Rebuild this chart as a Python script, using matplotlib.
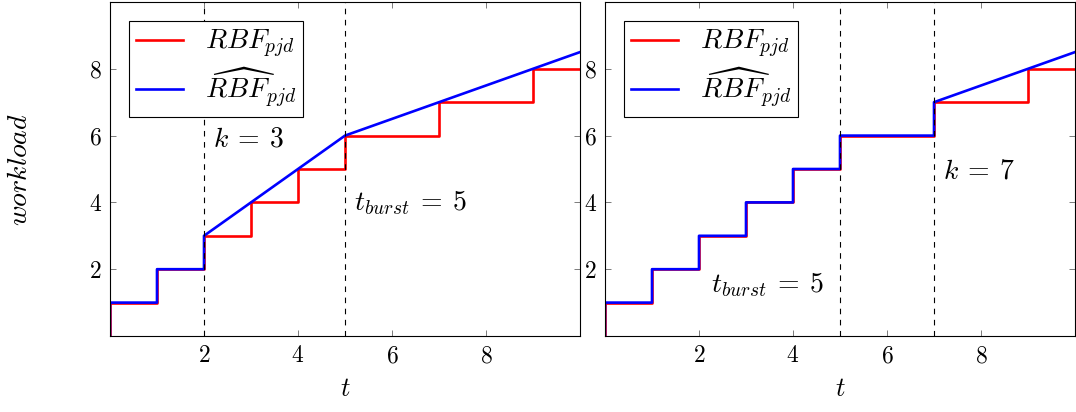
import matplotlib
matplotlib.use("Agg")
import matplotlib.pyplot as plt

plt.rcParams['mathtext.fontset'] = 'cm'
plt.rcParams['font.family'] = 'serif'
plt.rcParams['font.serif'] = ['DejaVu Serif']

# left panel data (k = 3)
red_t = [0, 0, 1, 1, 2, 2, 3, 3, 4, 4, 5, 5, 7, 7, 9, 9, 10]
red_y = [0, 1, 1, 2, 2, 3, 3, 4, 4, 5, 5, 6, 6, 7, 7, 8, 8]
blue_left_t = [0, 0, 1, 1, 2, 2, 5, 10]
blue_left_y = [0, 1, 1, 2, 2, 3, 6, 8.5]
# right panel data (k = 7)
blue_right_t = [0, 0, 1, 1, 2, 2, 3, 3, 4, 4, 5, 5, 7, 7, 10]
blue_right_y = [0, 1, 1, 2, 2, 3, 3, 4, 4, 5, 5, 6, 6, 7, 8.5]

ticks = [2, 4, 6, 8]

fig = plt.figure(figsize=(10.76, 4.12), dpi=100)
ax1 = fig.add_axes([110/1076, 76/412, 470/1076, 334/412])
ax2 = fig.add_axes([605/1076, 76/412, 470/1076, 334/412])

lab_red = r'$RBF_{pjd}$'
lab_blue = r'$\widehat{RBF}_{pjd}$'

def setup(ax, blue_t, blue_y, dashes, texts):
    ax.plot(red_t, red_y, color='red', lw=1.9, label=lab_red)
    ax.plot(blue_t, blue_y, color='blue', lw=1.9, label=lab_blue)
    for d in dashes:
        ax.axvline(d, color='black', lw=0.8, ls=(0, (5, 5)))
    for (x, y, s) in texts:
        ax.text(x, y, s, fontsize=20, va='center', ha='left')
    ax.set_xlim(0, 10)
    ax.set_ylim(0, 10)
    ax.set_xticks(ticks)
    ax.set_yticks(ticks)
    ax.set_xticklabels([r'$%d$' % v for v in ticks])
    ax.set_yticklabels([r'$%d$' % v for v in ticks])
    ax.tick_params(direction='in', length=4, width=0.6, color='#666666',
                   top=True, right=True, labelsize=17, pad=6)
    for s in ax.spines.values():
        s.set_linewidth(0.8)
    ax.set_xlabel(r'$t$', fontsize=19, labelpad=6)
    leg = ax.legend(loc='upper left', fontsize=20, fancybox=False,
                    edgecolor='black', framealpha=1, handlelength=1.7,
                    borderpad=0.25, labelspacing=0.2, handletextpad=0.8,
                    bbox_to_anchor=(0.01, 0.985))
    leg.get_frame().set_linewidth(0.8)

setup(ax1, blue_left_t, blue_left_y, [2, 5],
      [(2.2, 5.9, r'$k\:=\:3$'), (5.2, 4.0, r'$t_{burst}\:=\:5$')])
setup(ax2, blue_right_t, blue_right_y, [5, 7],
      [(2.25, 1.55, r'$t_{burst}\:=\:5$'), (7.2, 4.95, r'$k\:=\:7$')])
ax1.set_ylabel(r'$workload$', fontsize=20, labelpad=40)

fig.savefig('out.png', dpi=100)
